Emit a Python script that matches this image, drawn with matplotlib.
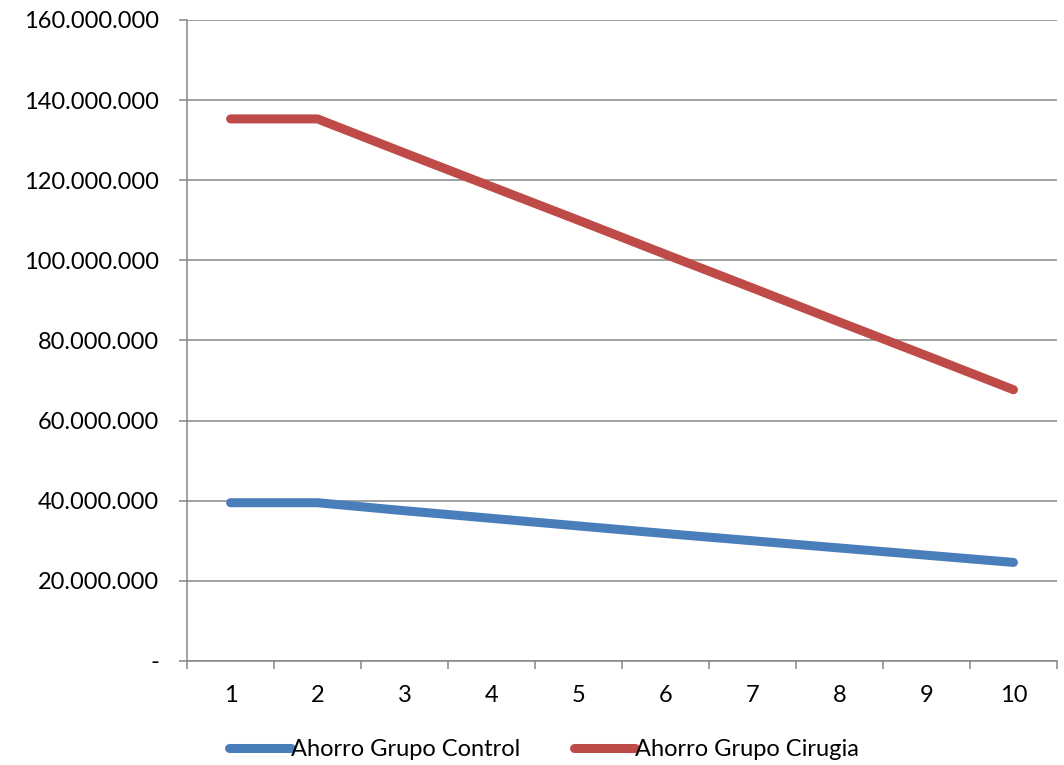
import matplotlib.pyplot as plt
from matplotlib.ticker import FuncFormatter, FixedLocator
from matplotlib.lines import Line2D

# data
years = [1, 2, 3, 4, 5, 6, 7, 8, 9, 10]
ahorro_control = [39.5e6, 39.5e6, 37.5e6, 35.6e6, 33.7e6, 31.8e6, 30.0e6, 28.2e6, 26.4e6, 24.6e6]
ahorro_cirugia = [135.3e6, 135.3e6, 126.8e6, 118.4e6, 110.0e6, 101.5e6, 93.1e6, 84.6e6, 76.2e6, 67.7e6]
labels = ["Ahorro Grupo Control", "Ahorro Grupo Cirugia"]
colors = ["#4A7EBB", "#BE4B48"]

plt.rcParams['font.family'] = ['Lato', 'DejaVu Sans']

fig = plt.figure(figsize=(10.64, 7.65), dpi=100)
ax = fig.add_axes([0.1758, 0.136, 0.8176, 0.8379])

grid_c = "#868686"

ax.plot(years, ahorro_control, color=colors[0], lw=6.5, solid_capstyle="round", zorder=3)
ax.plot(years, ahorro_cirugia, color=colors[1], lw=6.5, solid_capstyle="round", zorder=3)

ax.set_xlim(0.5, 10.5)
ax.set_ylim(0, 160e6)
ax.set_yticks(range(0, 160000001, 20000000))


def fmt(v, pos):
    if v == 0:
        return "-"
    return f"{int(v):,}".replace(",", ".")


ax.yaxis.set_major_formatter(FuncFormatter(fmt))
ax.grid(axis="y", color=grid_c, lw=1.1)
ax.set_axisbelow(True)

# tick marks between categories, labels centered
ax.xaxis.set_major_locator(FixedLocator([x + 0.5 for x in range(0, 11)]))
ax.xaxis.set_minor_locator(FixedLocator(years))
ax.xaxis.set_major_formatter(FuncFormatter(lambda v, p: ""))
ax.xaxis.set_minor_formatter(FuncFormatter(lambda v, p: str(int(round(v)))))
ax.tick_params(axis="x", which="major", length=6, width=1.1, color=grid_c, direction="out")
ax.tick_params(axis="x", which="minor", length=0, pad=17, labelsize=17)
ax.tick_params(axis="y", length=6, width=1.1, color=grid_c, labelsize=17, pad=14)

for s in ["top", "right"]:
    ax.spines[s].set_visible(False)
for s in ["left", "bottom"]:
    ax.spines[s].set_color(grid_c)
    ax.spines[s].set_linewidth(1.1)

handles = [Line2D([0], [0], color=c, lw=6.5, solid_capstyle="round") for c in colors]
fig.legend(handles, labels, loc="center", bbox_to_anchor=(0.5115, 0.02), ncol=2,
           frameon=False, fontsize=17, handlelength=2.6, handletextpad=0.0,
           columnspacing=2.3)

fig.savefig("out.png", dpi=100)
